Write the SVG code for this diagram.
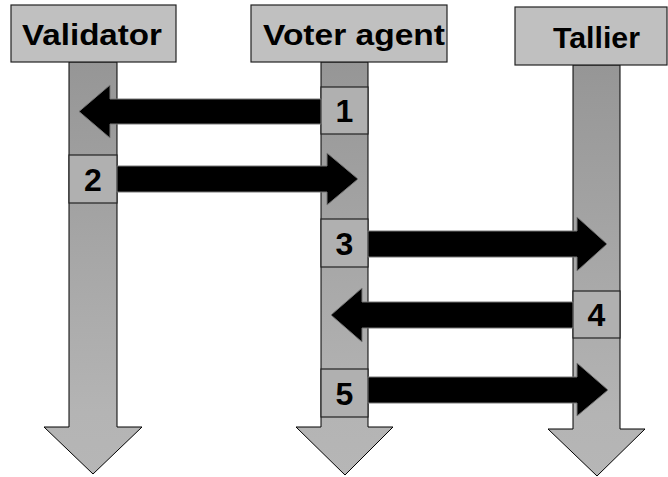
<svg xmlns="http://www.w3.org/2000/svg" width="668" height="477" viewBox="0 0 668 477">
<defs>
<linearGradient id="shaft" x1="0" y1="0" x2="0" y2="1">
<stop offset="0" stop-color="#969696"/>
<stop offset="0.85" stop-color="#b4b4b4"/>
<stop offset="1" stop-color="#b6b6b6"/>
</linearGradient>
</defs>
<style>
.life{fill:url(#shaft);stroke:#000;stroke-width:1}
.head{fill:#c0c0c0;stroke:#222;stroke-width:1.2}
.title{font-family:"Liberation Sans",Arial,sans-serif;font-weight:bold;font-size:29px;fill:#000}
.step rect{fill:#b0b0b0;stroke:#222;stroke-width:1.2}
.step text{font-family:"Liberation Sans",Arial,sans-serif;font-weight:bold;font-size:32px;fill:#000;text-anchor:middle}
.msg{fill:#000;stroke:#777;stroke-width:1}
</style>
<rect width="668" height="477" fill="#fff"/>
<g id="validator">
<path class="life" d="M69,62 L117,62 L117,427 L142,427 L93,474 L44,427 L69,427 Z"/>
<rect class="head" x="11" y="5" width="165" height="57"/>
<text class="title" x="22" y="45" textLength="140" lengthAdjust="spacingAndGlyphs">Validator</text>
</g>
<g id="voter">
<path class="life" d="M321,62 L368,62 L368,427 L393,427 L345,475 L296,427 L321,427 Z"/>
<rect class="head" x="251" y="5" width="196" height="57"/>
<text class="title" x="263" y="45" textLength="182" lengthAdjust="spacingAndGlyphs">Voter agent</text>
</g>
<g id="tallier">
<path class="life" d="M573,65 L620,65 L620,429 L645,429 L597,476 L548,429 L573,429 Z"/>
<rect class="head" x="515" y="7" width="152" height="58"/>
<text class="title" x="553" y="48" textLength="87" lengthAdjust="spacingAndGlyphs">Tallier</text>
</g>
<g id="step1" class="step"><rect x="321" y="87" width="47" height="47"/><text x="344.5" y="122">1</text></g>
<g id="step2" class="step"><rect x="69" y="155" width="48" height="48"/><text x="93" y="190.5">2</text></g>
<g id="step3" class="step"><rect x="321" y="219" width="47" height="48"/><text x="344.5" y="254.5">3</text></g>
<g id="step4" class="step"><rect x="573" y="291" width="47" height="47"/><text x="596.5" y="326">4</text></g>
<g id="step5" class="step"><rect x="321" y="369" width="47" height="48"/><text x="344.5" y="404.5">5</text></g>
<g id="connectors">
<polygon class="msg" points="321,99 110,99 110,85 79,111.5 110,138 110,124 321,124"/>
<polygon class="msg" points="117,166 327,166 327,153 358,179 327,205 327,192 117,192"/>
<polygon class="msg" points="368,231 577,231 577,217 607,244 577,271 577,257 368,257"/>
<polygon class="msg" points="573,302 362,302 362,288 331,315 362,342 362,328 573,328"/>
<polygon class="msg" points="368,377 577,377 577,363 608,390 577,416 577,403 368,403"/>
</g>
</svg>
